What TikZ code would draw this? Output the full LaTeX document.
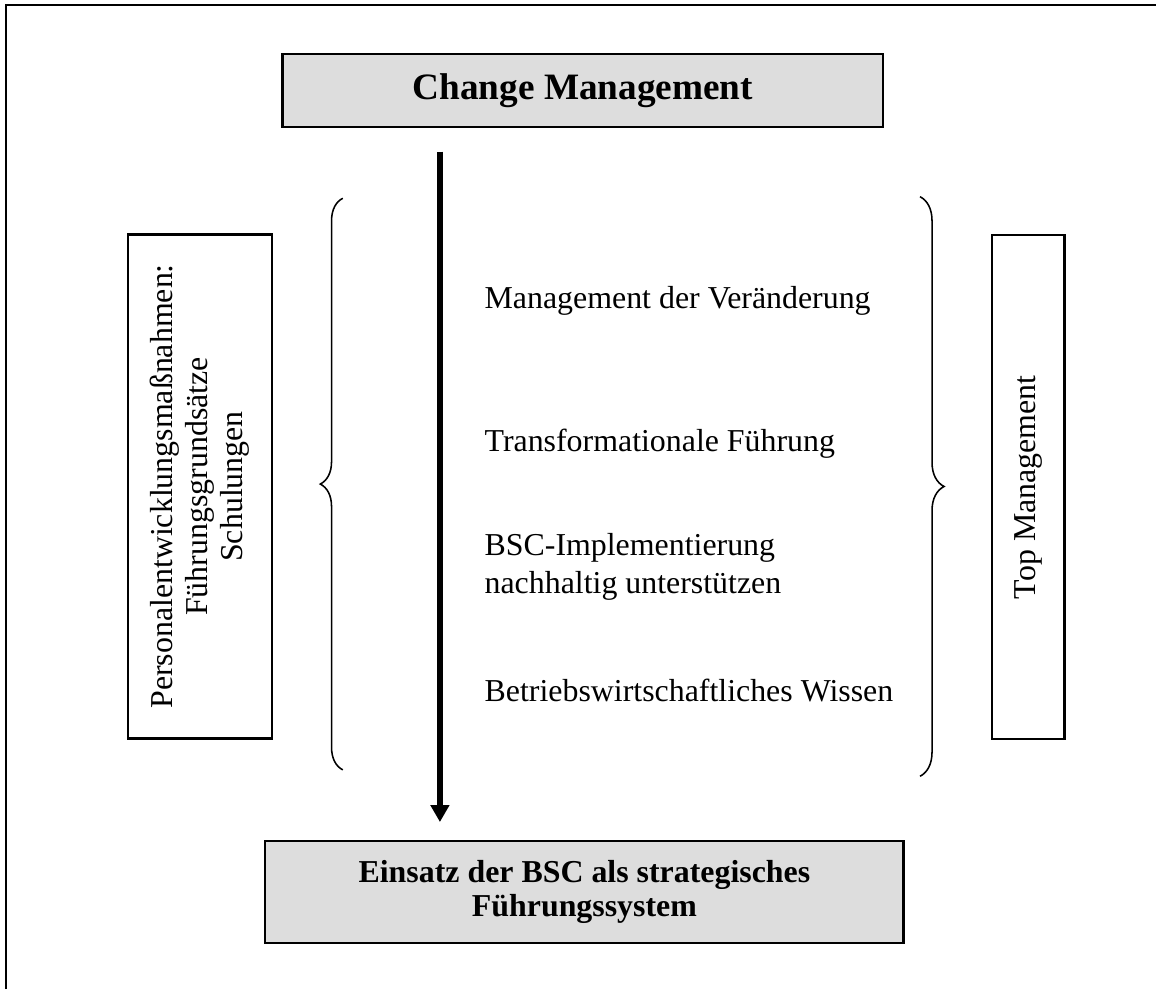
\documentclass[tikz,border=0pt]{standalone}
\usepackage{fontspec}
\setmainfont{Liberation Serif}
\usetikzlibrary{arrows.meta, positioning, decorations.pathreplacing}
\definecolor{boxgray}{RGB}{221,221,221}

\begin{document}
\begin{tikzpicture}[
        >=Triangle,
        box/.style={draw, line width=0.8pt, align=center, inner sep=4pt},
        graybox/.style={box, fill=boxgray},
        sidebox/.style={box, rotate=90, font=\fontsize{11.3}{12.5}\selectfont},
        item/.style={anchor=west, align=left, inner sep=0pt,
                     font=\fontsize{11.3}{13.4}\selectfont},
        brc/.style={decorate, decoration={brace, amplitude=#1}, line width=0.55pt},
        arr/.style={-{Triangle[width=6.4pt, length=6pt]}, line width=2.1pt},
    ]
    \useasboundingbox (0,0) rectangle (14.40,12.32);

    % ---- Frame (only left and top edge visible) ----
    \draw[line width=0.9pt] (0.075,0) -- (0.075,12.26) -- (14.40,12.26);

    % ---- Start and goal ----
    \node[graybox, font=\fontsize{13.2}{16}\bfseries\selectfont,
          minimum width=7.48cm, minimum height=0.91cm] (chg) at (7.26,11.19)
        {Change Management};
    \node[graybox, font=\fontsize{11.3}{11.8}\bfseries\selectfont,
          minimum width=7.95cm, minimum height=1.27cm] (bsc) at (7.28,1.21)
        {Einsatz der BSC als strategisches\\Führungssystem};

    % ---- Main arrow ----
    \coordinate (atop) at (5.48,10.43);
    \coordinate (abot) at (5.48,2.08);
    \draw[arr] (atop) -- (abot);

    % ---- Side boxes ----
    \node[sidebox, minimum width=6.28cm, minimum height=1.79cm] (pe) at (2.49,6.26)
        {Personalentwicklungsmaßnahmen:\\Führungsgrundsätze\\Schulungen};
    \node[sidebox, minimum width=6.28cm, minimum height=0.90cm] (tm) at (12.81,6.25)
        {Top Management};

    % ---- Braces ----
    \coordinate (lbb) at (4.27,2.73);
    \coordinate (lbt) at (4.27,9.85);
    \coordinate (rbt) at (11.46,9.87);
    \coordinate (rbb) at (11.46,2.65);
    \draw[brc=0.28cm] (lbb) -- (lbt);
    \draw[brc=0.30cm] (rbt) -- (rbb);

    % ---- Items between the braces ----
    \node[item] (mdv) at (6.03,8.57) {Management der Veränderung};
    \node[item] (tf)  at (6.03,6.79) {Transformationale Führung};
    \node[item] (imp) at (6.03,5.26) {BSC-Implementierung\\nachhaltig unterstützen};
    \node[item] (bw)  at (6.03,3.72) {Betriebswirtschaftliches Wissen};

\end{tikzpicture}
\end{document}
